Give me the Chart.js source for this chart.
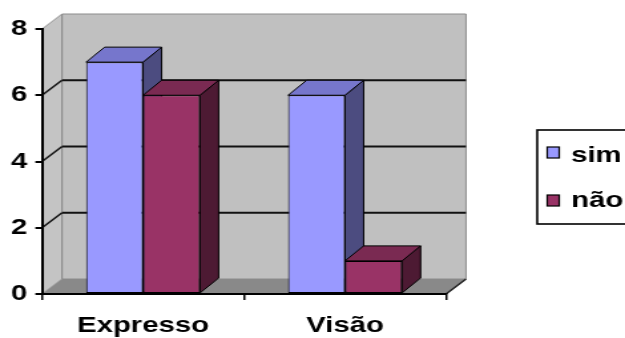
<!DOCTYPE html>
<html>
<head>
<meta charset="utf-8">
<script src="https://cdn.jsdelivr.net/npm/chart.js@4.4.1/dist/chart.umd.min.js"></script>
<style>
  html, body { margin: 0; padding: 0; background: #fff; overflow: hidden; }
  /* the drawing is laid out narrow and widened, like a stretched spreadsheet chart */
  #wrap { width: 470px; height: 338px; transform: scaleX(1.3298); transform-origin: 0 0; }
  canvas { display: block; }
</style>
</head>
<body>
<div id="wrap"><canvas id="c" width="470" height="338"></canvas></div>
<script>
const categories = ['Expresso', 'Visão'];
const seriesNames = ['sim', 'não'];
const simValues = [7, 6];
const naoValues = [6, 1];
const yTicks = [0, 2, 4, 6, 8];

const FONT = { family: '"Liberation Sans", Arial, sans-serif', size: 22, weight: 'bold' };
const FONT_CSS = 'bold 22px "Liberation Sans", Arial, sans-serif';

const shades = [
  { front: '#9999ff', top: '#7676cc', side: '#4c4c80' },
  { front: '#993366', top: '#7a2a52', side: '#4d1a33' }
];

const WALL_DX = 15, WALL_DY = 15;   // depth of the box
const BAR_DX = 14, BAR_DY = 15;     // depth of each column

function poly(ctx, pts, fill, stroke, lw) {
  ctx.beginPath();
  ctx.moveTo(pts[0][0], pts[0][1]);
  for (let i = 1; i < pts.length; i++) ctx.lineTo(pts[i][0], pts[i][1]);
  ctx.closePath();
  if (fill) { ctx.fillStyle = fill; ctx.fill(); }
  if (stroke) { ctx.strokeStyle = stroke; ctx.lineWidth = lw || 1; ctx.stroke(); }
}
function seg(ctx, x1, y1, x2, y2, color, lw) {
  ctx.beginPath();
  ctx.moveTo(x1, y1); ctx.lineTo(x2, y2);
  ctx.strokeStyle = color; ctx.lineWidth = lw; ctx.stroke();
}

// walls, floor, back gridlines and the top/side faces of the columns
const depthPlugin = {
  id: 'depth',
  beforeDraw(chart) {
    const ctx = chart.ctx;
    const a = chart.chartArea;
    const ys = chart.scales.y;
    const L = a.left, R = a.right;
    const T = ys.getPixelForValue(yTicks[yTicks.length - 1]);
    const B = ys.getPixelForValue(0);
    ctx.save();
    // back wall
    poly(ctx, [[L + WALL_DX, T - WALL_DY], [R + WALL_DX, T - WALL_DY], [R + WALL_DX, B - WALL_DY], [L + WALL_DX, B - WALL_DY]], '#c0c0c0', '#8c8c8c', 1);
    // side wall
    poly(ctx, [[L, B], [L, T], [L + WALL_DX, T - WALL_DY], [L + WALL_DX, B - WALL_DY]], '#c4c4c4', '#8c8c8c', 1);
    // floor
    poly(ctx, [[L, B], [R, B], [R + WALL_DX, B - WALL_DY], [L + WALL_DX, B - WALL_DY]], '#898989', null);
    seg(ctx, R, B, R + WALL_DX, B - WALL_DY, '#222', 1.5);
    // gridlines
    yTicks.forEach(v => {
      if (v === 0 || v === yTicks[yTicks.length - 1]) return;
      const py = ys.getPixelForValue(v);
      seg(ctx, L, py, L + WALL_DX, py - WALL_DY, '#111', 1.5);
      seg(ctx, L + WALL_DX, py - WALL_DY, R + WALL_DX, py - WALL_DY, '#111', 1.8);
    });
    // column tops and sides
    chart.data.datasets.forEach((ds, di) => {
      const meta = chart.getDatasetMeta(di);
      const c = shades[di];
      meta.data.forEach(bar => {
        const x0 = bar.x - bar.width / 2, x1 = bar.x + bar.width / 2;
        const y = bar.y, base = bar.base;
        poly(ctx, [[x1, y], [x1 + BAR_DX, y - BAR_DY], [x1 + BAR_DX, base - BAR_DY], [x1, base]], c.side, '#000', 1);
        poly(ctx, [[x0, y], [x1, y], [x1 + BAR_DX, y - BAR_DY], [x0 + BAR_DX, y - BAR_DY]], c.top, '#000', 1);
      });
    });
    ctx.restore();
  },
  afterDraw(chart) {
    // legend box
    const ctx = chart.ctx;
    ctx.save();
    ctx.fillStyle = '#fff';
    ctx.fillRect(404, 130, 80, 94);
    ctx.strokeStyle = '#000';
    ctx.lineWidth = 1.6;
    ctx.strokeRect(404, 130, 80, 94);
    const rows = [{ sq: 147, base: 162 }, { sq: 195, base: 207 }];
    chart.data.datasets.forEach((ds, i) => {
      const r = rows[i];
      ctx.fillStyle = shades[i].front;
      ctx.fillRect(411.5, r.sq, 9, 11);
      ctx.lineWidth = 1.2;
      ctx.strokeStyle = '#000';
      ctx.strokeRect(411.5, r.sq, 9, 11);
      ctx.fillStyle = '#000';
      ctx.font = FONT_CSS;
      ctx.textBaseline = 'alphabetic';
      ctx.textAlign = 'left';
      ctx.fillText(ds.label, 429.5, r.base);
    });
    ctx.restore();
  }
};

new Chart(document.getElementById('c'), {
  type: 'bar',
  data: {
    labels: categories,
    datasets: [
      { label: seriesNames[0], data: simValues, backgroundColor: shades[0].front },
      { label: seriesNames[1], data: naoValues, backgroundColor: shades[1].front }
    ].map(d => Object.assign(d, {
      borderColor: '#000', borderWidth: 1, borderSkipped: false,
      categoryPercentage: 0.564, barPercentage: 1.0
    }))
  },
  options: {
    responsive: false,
    animation: false,
    devicePixelRatio: 1,
    layout: { padding: { left: 0, right: 134.6, top: 29, bottom: 0 } },
    plugins: { legend: { display: false }, tooltip: { enabled: false } },
    scales: {
      x: {
        grid: { drawOnChartArea: false, drawTicks: true, tickLength: 6, color: '#000', lineWidth: 1.5, offset: true },
        border: { display: true, color: '#000', width: 2 },
        ticks: { color: '#000', font: FONT, padding: 13, maxRotation: 0, autoSkip: false },
        afterFit(s) { s.height = 44; }
      },
      y: {
        min: 0, max: 8,
        afterBuildTicks(s) { s.ticks = yTicks.map(v => ({ value: v })); },
        grid: { drawOnChartArea: false, drawTicks: true, tickLength: 5, color: '#000', lineWidth: 2 },
        border: { display: true, color: '#000', width: 2 },
        ticks: { color: '#000', font: FONT, padding: 6 },
        afterFit(s) { s.width = 31.6; }
      }
    }
  },
  plugins: [depthPlugin]
});
</script>
</body>
</html>
